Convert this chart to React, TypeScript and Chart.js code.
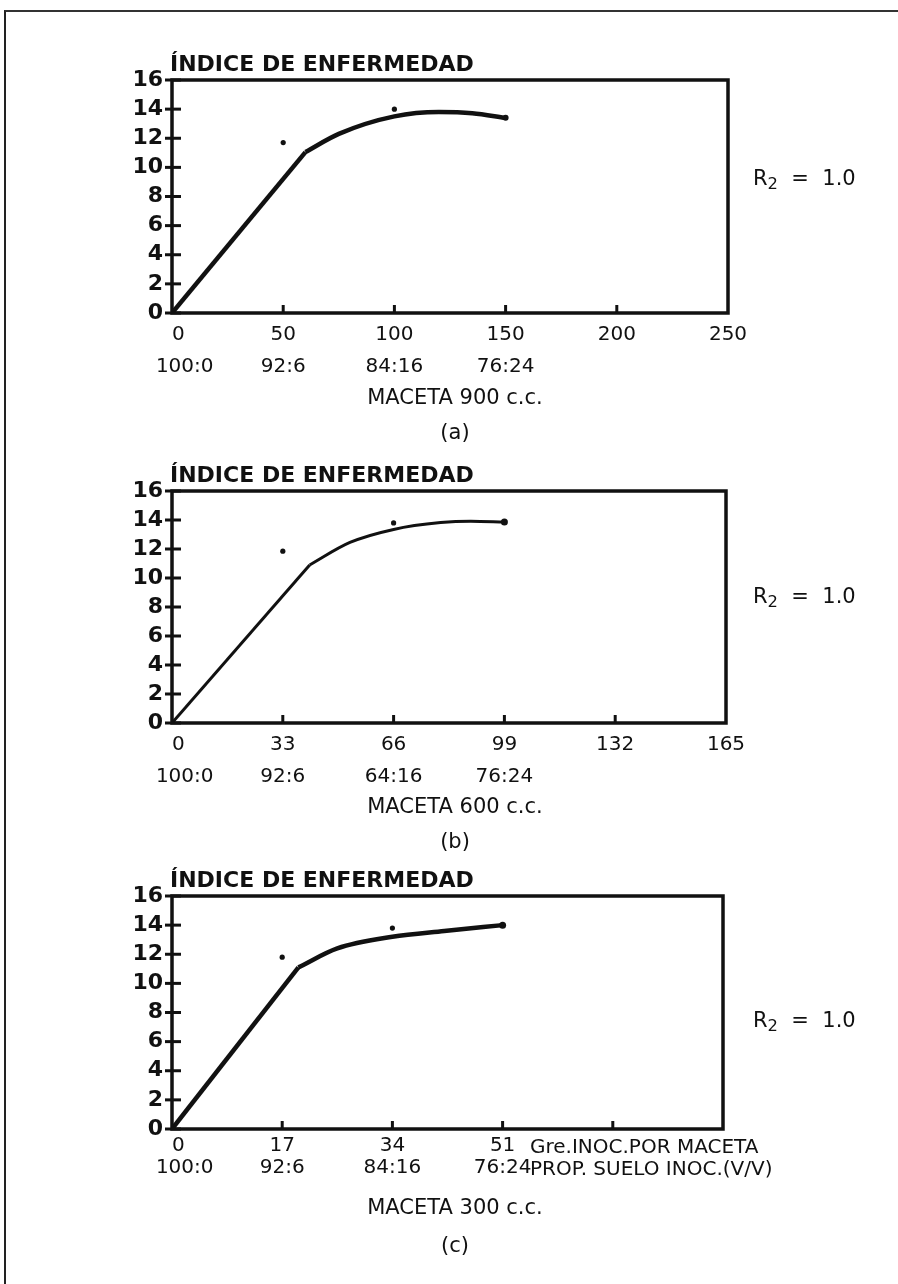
import React, { useEffect, useRef } from "react";
import { Chart, registerables } from "chart.js";

Chart.register(...registerables);

const W = 898;
const H = 1284;
const INK = "#111111";
const FAMILY = "'DejaVu Sans', 'Liberation Sans', Arial, sans-serif";
const XAXIS_H = 80;

const yTickValues = [0, 2, 4, 6, 8, 10, 12, 14, 16];

// (a) MACETA 900 c.c.
const aTicks = [0, 50, 100, 150, 200, 250];
const aTickLabels = ["  0", "50", "100", "150", "200", "250"];
const aPropLabels = ["    100:0", "92:6", "84:16", "76:24", "", ""];
const aLineX = [0, 60];
const aLineY = [0, 11.05];
const aCurveX = [60, 75, 100, 120, 135, 150];
const aCurveY = [11.05, 12.3, 13.5, 13.8, 13.72, 13.4];
const aDotX = [50, 100];
const aDotY = [11.7, 14.0];

// (b) MACETA 600 c.c.
const bTicks = [0, 33, 66, 99, 132, 165];
const bTickLabels = ["  0", "33", "66", "99", "132", "165"];
const bPropLabels = ["    100:0", "92:6", "64:16", "76:24", "", ""];
const bLineX = [0, 41];
const bLineY = [0, 10.9];
const bCurveX = [41, 53, 66, 80, 89, 99];
const bCurveY = [10.9, 12.45, 13.35, 13.82, 13.92, 13.86];
const bDotX = [33, 66];
const bDotY = [11.85, 13.8];

// (c) MACETA 300 c.c.
const cTicks = [0, 17, 34, 51, 68, 85];
const cTickLabels = ["  0", "17", "34", "51", "", ""];
const cPropLabels = ["    100:0", "92:6", "84:16", "76:24", "", ""];
const cLineX = [0, 19.5];
const cLineY = [0, 11.1];
const cCurveX = [19.5, 25.5, 34, 42, 51];
const cCurveY = [11.1, 12.4, 13.2, 13.6, 14.0];
const cDotX = [17, 34];
const cDotY = [11.8, 13.8];

const framePlugin = {
  id: "frame",
  afterDatasetsDraw(chart: any) {
    const { ctx, chartArea: a, scales } = chart;
    const x = scales.x;
    const y = scales.y;
    ctx.save();
    ctx.strokeStyle = INK;
    ctx.lineWidth = 3.5;
    ctx.strokeRect(a.left, a.top, a.right - a.left, a.bottom - a.top);
    ctx.lineWidth = 3;
    y.ticks.forEach((t: any) => {
      const py = y.getPixelForValue(t.value);
      ctx.beginPath();
      ctx.moveTo(a.left - 7, py);
      ctx.lineTo(a.left + 9, py);
      ctx.stroke();
    });
    x.ticks.forEach((t: any) => {
      const px = x.getPixelForValue(t.value);
      if (px > a.left + 2 && px < a.right - 2) {
        ctx.beginPath();
        ctx.moveTo(px, a.bottom);
        ctx.lineTo(px, a.bottom - 8);
        ctx.stroke();
      }
    });
    ctx.restore();
  },
};

function buildConfig(p: any) {
  const pts = (xs: number[], ys: number[]) => xs.map((x, i) => ({ x, y: ys[i] }));
  const last = p.curveX.length - 1;
  return {
    type: "scatter",
    data: {
      datasets: [
        {
          data: pts(p.lineX, p.lineY),
          showLine: true,
          borderColor: INK,
          borderWidth: p.lw,
          pointRadius: 0,
          tension: 0,
        },
        {
          data: pts(p.curveX, p.curveY),
          showLine: true,
          borderColor: INK,
          borderWidth: p.lw,
          cubicInterpolationMode: "monotone",
          pointRadius: p.curveX.map((_: any, i: number) => (i === last ? p.endR : 0)),
          pointBackgroundColor: INK,
          pointBorderWidth: 0,
        },
        {
          data: pts(p.dotX, p.dotY),
          showLine: false,
          pointRadius: 2.6,
          pointBackgroundColor: INK,
          pointBorderWidth: 0,
        },
      ],
    },
    options: {
      responsive: false,
      animation: false,
      events: [],
      plugins: { legend: { display: false }, tooltip: { enabled: false } },
      layout: {
        padding: { top: p.top, left: 0, right: W - p.right, bottom: H - p.bottom - XAXIS_H },
      },
      scales: {
        x: {
          type: "linear",
          min: 0,
          max: p.max,
          afterBuildTicks: (s: any) => {
            s.ticks = p.ticks.map((v: number) => ({ value: v }));
          },
          ticks: {
            autoSkip: false,
            maxRotation: 0,
            padding: 6,
            color: INK,
            font: { family: FAMILY, size: 20, lineHeight: p.lh },
            callback: (_v: any, i: number) => [p.tickLabels[i], p.propLabels[i]],
          },
          grid: { display: false, drawTicks: false },
          border: { display: false },
          afterFit: (s: any) => {
            s.height = XAXIS_H;
          },
        },
        y: {
          min: 0,
          max: 16,
          afterBuildTicks: (s: any) => {
            s.ticks = yTickValues.map((v) => ({ value: v }));
          },
          ticks: {
            autoSkip: false,
            padding: 9,
            color: INK,
            font: { family: FAMILY, size: 22, weight: "bold" },
          },
          grid: { display: false, drawTicks: false },
          border: { display: false },
          afterFit: (s: any) => {
            s.width = p.left;
          },
        },
      },
    },
    plugins: [framePlugin],
  };
}

const panels = [
  {
    top: 80, bottom: 313, left: 172, right: 728, max: 250, lw: 4.5, endR: 3, lh: 1.6,
    ticks: aTicks, tickLabels: aTickLabels, propLabels: aPropLabels,
    lineX: aLineX, lineY: aLineY, curveX: aCurveX, curveY: aCurveY, dotX: aDotX, dotY: aDotY,
  },
  {
    top: 491, bottom: 723, left: 172, right: 726, max: 165, lw: 3, endR: 3.5, lh: 1.6,
    ticks: bTicks, tickLabels: bTickLabels, propLabels: bPropLabels,
    lineX: bLineX, lineY: bLineY, curveX: bCurveX, curveY: bCurveY, dotX: bDotX, dotY: bDotY,
  },
  {
    top: 896, bottom: 1129, left: 172, right: 723, max: 85, lw: 4.5, endR: 3.5, lh: 1.1,
    ticks: cTicks, tickLabels: cTickLabels, propLabels: cPropLabels,
    lineX: cLineX, lineY: cLineY, curveX: cCurveX, curveY: cCurveY, dotX: cDotX, dotY: cDotY,
  },
];

function PanelCanvas({ p }: { p: any }) {
  const ref = useRef<HTMLCanvasElement | null>(null);
  useEffect(() => {
    if (!ref.current) return;
    const chart = new Chart(ref.current, buildConfig(p) as any);
    return () => chart.destroy();
  }, [p]);
  return (
    <canvas
      ref={ref}
      width={W}
      height={H}
      style={{ position: "absolute", left: 0, top: 0, width: W, height: H }}
    />
  );
}

function Text({ children, style }: { children: any; style: any }) {
  return (
    <div
      style={{
        position: "absolute",
        whiteSpace: "nowrap",
        fontFamily: FAMILY,
        color: INK,
        lineHeight: 1,
        ...style,
      }}
    >
      {children}
    </div>
  );
}

const titleText = "ÍNDICE DE ENFERMEDAD";

function R2({ top }: { top: number }) {
  return (
    <Text style={{ left: 753, top, fontSize: 21 }}>
      R<span style={{ fontSize: "0.78em", position: "relative", top: "0.22em" }}>2</span>
      {"\u00a0\u00a0=\u00a0\u00a01.0"}
    </Text>
  );
}

export default function App() {
  useEffect(() => {
    document.body.style.margin = "0";
    document.body.style.background = "#ffffff";
  }, []);
  return (
    <div style={{ position: "relative", width: W, height: H, background: "#fff", overflow: "hidden" }}>
      <div
        style={{
          position: "absolute",
          left: 4,
          top: 10,
          width: W,
          height: H,
          borderLeft: "2px solid #222",
          borderTop: "2px solid #333",
        }}
      />
      {panels.map((p, i) => (
        <PanelCanvas key={i} p={p} />
      ))}

      <Text style={{ left: 170, top: 53, fontSize: 22, fontWeight: "bold" }}>{titleText}</Text>
      <Text style={{ left: 170, top: 464, fontSize: 22, fontWeight: "bold" }}>{titleText}</Text>
      <Text style={{ left: 170, top: 869, fontSize: 22, fontWeight: "bold" }}>{titleText}</Text>

      <Text style={{ left: 455, top: 387, fontSize: 21, transform: "translateX(-50%)" }}>MACETA 900 c.c.</Text>
      <Text style={{ left: 455, top: 422, fontSize: 21, transform: "translateX(-50%)" }}>(a)</Text>
      <Text style={{ left: 455, top: 796, fontSize: 21, transform: "translateX(-50%)" }}>MACETA 600 c.c.</Text>
      <Text style={{ left: 455, top: 831, fontSize: 21, transform: "translateX(-50%)" }}>(b)</Text>
      <Text style={{ left: 455, top: 1197, fontSize: 21, transform: "translateX(-50%)" }}>MACETA 300 c.c.</Text>
      <Text style={{ left: 455, top: 1235, fontSize: 21, transform: "translateX(-50%)" }}>(c)</Text>

      <Text style={{ left: 530, top: 1136, fontSize: 20 }}>Gre.INOC.POR MACETA</Text>
      <Text style={{ left: 530, top: 1158, fontSize: 20 }}>PROP. SUELO INOC.(V/V)</Text>

      <R2 top={168} />
      <R2 top={586} />
      <R2 top={1010} />
    </div>
  );
}
